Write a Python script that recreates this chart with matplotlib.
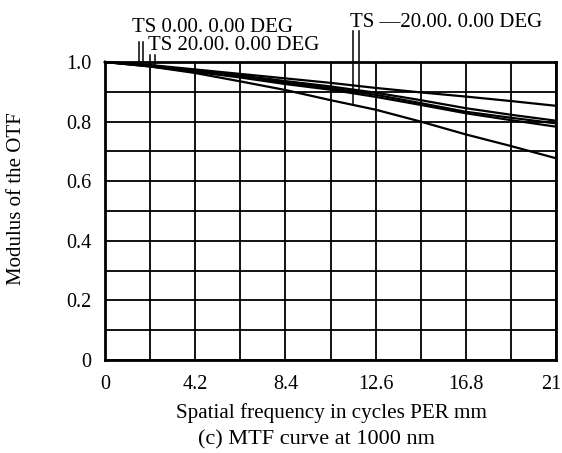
import matplotlib
matplotlib.use("Agg")
import matplotlib.pyplot as plt
import matplotlib.transforms as mtransforms
import numpy as np

plt.rcParams["font.family"] = ["Liberation Serif", "DejaVu Serif"]

# spatial frequency samples (cycles/mm)
freq = [0, 2.1, 4.2, 6.3, 8.4, 10.5, 12.6, 14.7, 16.8, 18.9, 21]

# MTF curves
mtf_top = [1.0, 0.990, 0.975, 0.960, 0.945, 0.930, 0.913, 0.898, 0.884, 0.869, 0.853]
mtf_a = [1.0, 0.988, 0.972, 0.955, 0.936, 0.918, 0.897, 0.872, 0.845, 0.823, 0.803]
mtf_b = [1.0, 0.987, 0.970, 0.952, 0.931, 0.912, 0.890, 0.862, 0.833, 0.813, 0.794]
mtf_c = [1.0, 0.985, 0.967, 0.948, 0.926, 0.907, 0.883, 0.856, 0.828, 0.805, 0.783]
mtf_d = [1.0, 0.985, 0.963, 0.935, 0.906, 0.872, 0.840, 0.800, 0.757, 0.718, 0.677]

curves = [mtf_top, mtf_a, mtf_b, mtf_c, mtf_d]

xticks = [0, 4.2, 8.4, 12.6, 16.8, 21]
xtick_labels = ["0", "4.2", "8.4", "12.6", "16.8", "21"]
yticks = [0, 0.2, 0.4, 0.6, 0.8, 1.0]
ytick_labels = ["0", "0.2", "0.4", "0.6", "0.8", "1.0"]

W, H = 562, 453
fig = plt.figure(figsize=(W / 100, H / 100), dpi=100)
ax = fig.add_axes([105 / W, 1 - 360 / H, 451 / W, 298 / H])

for c in curves:
    ax.plot(freq, c, color="black", lw=1.6, clip_on=False, zorder=3)

# field label marker lines (T and S)
def marker(x, top, curve):
    ax.plot([x, x], [top, np.interp(x, freq, curve)], color="black",
            lw=1.1, clip_on=False, zorder=3)

marker(1.58, 1.066, mtf_top)
marker(1.77, 1.066, mtf_top)
marker(2.10, 1.022, mtf_c)
marker(2.33, 1.022, mtf_c)
marker(11.56, 1.104, mtf_d)
marker(11.83, 1.104, mtf_b)

ax.set_xlim(0, 21)
ax.set_ylim(0, 1.0)
ax.set_xticks(np.arange(0, 21.01, 2.1), minor=True)
ax.set_yticks(np.arange(0, 1.001, 0.1), minor=True)
ax.set_xticks(xticks)
ax.set_xticklabels(xtick_labels)
ax.set_yticks(yticks)
ax.set_yticklabels(ytick_labels)
ax.grid(True, which="both", color="black", lw=1.3)
ax.tick_params(which="both", length=0, labelsize=14.5)
ax.tick_params(axis="x", pad=11)
ax.tick_params(axis="y", pad=10)
for s in ax.spines.values():
    s.set_linewidth(2.0)
    s.set_zorder(4)

# keep the last x label inside the figure
last = ax.get_xticklabels()[-1]
last.set_transform(last.get_transform() +
                   mtransforms.ScaledTranslation(-5 / 100, 0, fig.dpi_scale_trans))

fig.text(17 / W, 1 - 199 / H, "Modulus of the OTF", rotation=90,
         ha="center", va="center", fontsize=15)
fig.text(332 / W, 1 - 418 / H, "Spatial frequency in cycles PER mm",
         ha="center", va="baseline", fontsize=15.2)
fig.text(316 / W, 1 - 444 / H, "(c) MTF curve at 1000 nm",
         ha="center", va="baseline", fontsize=16)

fig.text(132 / W, 1 - 32 / H, "TS 0.00. 0.00 DEG", ha="left",
         va="baseline", fontsize=15)
fig.text(148 / W, 1 - 50 / H, "TS 20.00. 0.00 DEG", ha="left",
         va="baseline", fontsize=15)
fig.text(350 / W, 1 - 27 / H, "TS \u201420.00. 0.00 DEG", ha="left",
         va="baseline", fontsize=15)

fig.savefig("out.png", dpi=100)
